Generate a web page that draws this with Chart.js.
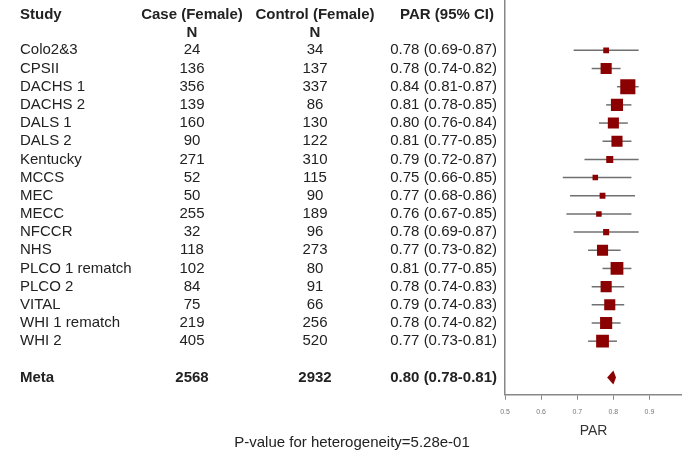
<!DOCTYPE html>
<html>
<head>
<meta charset="utf-8">
<script src="https://cdn.jsdelivr.net/npm/chart.js@4.4.0/dist/chart.umd.min.js"></script>
<style>
  html, body { margin: 0; padding: 0; background: #fff; }
  #wrap { width: 682px; height: 456px; }
</style>
</head>
<body>
<div id="wrap"><canvas id="forest" width="682" height="456"></canvas></div>
<script>
// study rows
const studies = ['Colo2&3', 'CPSII', 'DACHS 1', 'DACHS 2', 'DALS 1', 'DALS 2', 'Kentucky', 'MCCS', 'MEC',
    'MECC', 'NFCCR', 'NHS', 'PLCO 1 rematch', 'PLCO 2', 'VITAL', 'WHI 1 rematch', 'WHI 2'];
const caseN = [24, 136, 356, 139, 160, 90, 271, 52, 50, 255, 32, 118, 102, 84, 75, 219, 405];
const controlN = [34, 137, 337, 86, 130, 122, 310, 115, 90, 189, 96, 273, 80, 91, 66, 256, 520];
const par = [0.78, 0.78, 0.84, 0.81, 0.80, 0.81, 0.79, 0.75, 0.77, 0.76, 0.78, 0.77, 0.81, 0.78, 0.79, 0.78, 0.77];
const lower = [0.69, 0.74, 0.81, 0.78, 0.76, 0.77, 0.72, 0.66, 0.68, 0.67, 0.69, 0.73, 0.77, 0.74, 0.74, 0.74, 0.73];
const upper = [0.87, 0.82, 0.87, 0.85, 0.84, 0.85, 0.87, 0.85, 0.86, 0.85, 0.87, 0.82, 0.85, 0.83, 0.83, 0.82, 0.81];
// relative study weights (box area)
const weight = [2.1, 7.7, 14.3, 9.2, 7.7, 7.7, 3.1, 1.9, 2.1, 1.9, 2.3, 7.7, 10.2, 7.7, 7.7, 9.2, 10.2];

// pooled estimate
const metaLabel = 'Meta';
const metaCase = 2568;
const metaControl = 2932;
const metaPar = [0.80, 0.78, 0.81]; // estimate, lower, upper
const pHetero = '5.28e-01';

const tickVals = [0.5, 0.6, 0.7, 0.8, 0.9];

const FONT = "'Liberation Sans', Arial, sans-serif";
const DARKRED = '#8b0000';
const META_ROW = 18;

function parText(p, lo, hi) {
    return p.toFixed(2) + ' (' + lo.toFixed(2) + '-' + hi.toFixed(2) + ')';
}

const forestPlugin = {
    id: 'forestPlugin',
    beforeDatasetsDraw(chart) {
        const { ctx, scales: { x, y } } = chart;
        ctx.save();
        ctx.strokeStyle = '#707070';
        ctx.lineWidth = 1.5;
        par.forEach((v, i) => {
            const py = y.getPixelForValue(i);
            ctx.beginPath();
            ctx.moveTo(x.getPixelForValue(lower[i]), py);
            ctx.lineTo(x.getPixelForValue(upper[i]), py);
            ctx.stroke();
        });
        ctx.restore();
    },
    afterDatasetsDraw(chart) {
        // diamond for the meta estimate
        const { ctx, scales: { x, y } } = chart;
        const py = y.getPixelForValue(META_ROW);
        ctx.save();
        ctx.fillStyle = DARKRED;
        ctx.beginPath();
        ctx.moveTo(x.getPixelForValue(metaPar[1]) + 1, py);
        ctx.lineTo(x.getPixelForValue(metaPar[0]), py - 7);
        ctx.lineTo(x.getPixelForValue(metaPar[2]) - 1, py);
        ctx.lineTo(x.getPixelForValue(metaPar[0]), py + 7);
        ctx.closePath();
        ctx.fill();
        ctx.restore();
    },
    afterDraw(chart) {
        const { ctx, scales: { y } } = chart;
        const colName = 20, colCase = 192, colCtrl = 315, colPar = 497;
        ctx.save();
        ctx.fillStyle = '#222';
        ctx.textBaseline = 'middle';

        // headers
        ctx.font = 'bold 15px ' + FONT;
        const h1 = y.getPixelForValue(-1.94), h2 = y.getPixelForValue(-0.96);
        ctx.textAlign = 'left';
        ctx.fillText('Study', colName, h1);
        ctx.textAlign = 'center';
        ctx.fillText('Case (Female)', colCase, h1);
        ctx.fillText('Control (Female)', colCtrl, h1);
        ctx.fillText('N', colCase, h2);
        ctx.fillText('N', colCtrl, h2);
        ctx.textAlign = 'right';
        ctx.fillText('PAR (95% CI)', colPar - 3, h1);

        // study rows
        ctx.font = '15px ' + FONT;
        studies.forEach((s, i) => {
            const py = y.getPixelForValue(i);
            ctx.textAlign = 'left';
            ctx.fillText(s, colName, py);
            ctx.textAlign = 'center';
            ctx.fillText(String(caseN[i]), colCase, py);
            ctx.fillText(String(controlN[i]), colCtrl, py);
            ctx.textAlign = 'right';
            ctx.fillText(parText(par[i], lower[i], upper[i]), colPar, py);
        });

        // meta row
        ctx.font = 'bold 15px ' + FONT;
        const my = y.getPixelForValue(META_ROW);
        ctx.textAlign = 'left';
        ctx.fillText(metaLabel, colName, my);
        ctx.textAlign = 'center';
        ctx.fillText(String(metaCase), colCase, my);
        ctx.fillText(String(metaControl), colCtrl, my);
        ctx.textAlign = 'right';
        ctx.fillText(parText(metaPar[0], metaPar[1], metaPar[2]), colPar, my);

        // footer
        ctx.font = '15px ' + FONT;
        ctx.textAlign = 'center';
        ctx.fillText('P-value for heterogeneity=' + pHetero, 352, 443);
        ctx.restore();
    }
};

const ctx = document.getElementById('forest').getContext('2d');
new Chart(ctx, {
    type: 'scatter',
    data: {
        datasets: [{
            data: par.map((v, i) => ({ x: v, y: i })),
            pointStyle: 'rect',
            pointRadius: weight.map(w => 4 * Math.sqrt(w) / Math.SQRT2),
            backgroundColor: DARKRED,
            borderColor: DARKRED,
            borderWidth: 0
        }]
    },
    options: {
        responsive: false,
        animation: false,
        layout: { autoPadding: false, padding: { left: 505, right: 0, top: 0, bottom: 16 } },
        plugins: {
            legend: { display: false },
            tooltip: { enabled: false }
        },
        scales: {
            x: {
                type: 'linear',
                min: 0.5,
                max: 0.99,
                afterBuildTicks: (scale) => { scale.ticks = tickVals.map(v => ({ value: v })); },
                grid: { drawOnChartArea: false, drawTicks: true, tickLength: 5, color: '#888' },
                border: { color: '#888', width: 1.5 },
                ticks: {
                    color: '#777',
                    padding: 8,
                    maxRotation: 0,
                    font: { size: 7, family: FONT },
                    callback: (v) => String(v)
                },
                title: {
                    display: true,
                    text: 'PAR',
                    color: '#333',
                    font: { size: 14, family: FONT },
                    padding: { top: -1, bottom: 0 }
                }
            },
            y: {
                type: 'linear',
                reverse: true,
                min: -2.77,
                max: 18.95,
                ticks: { display: false },
                grid: { display: false, drawTicks: false },
                border: { display: true, color: '#888', width: 1.5 }
            }
        }
    },
    plugins: [forestPlugin]
});
</script>
</body>
</html>
